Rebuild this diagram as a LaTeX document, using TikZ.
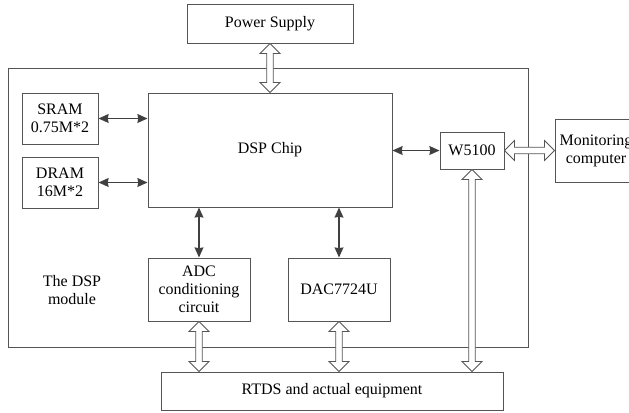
\documentclass[tikz,border=0pt]{standalone}
\usepackage{fontspec}
\setmainfont{Liberation Serif}
\usetikzlibrary{calc,arrows.meta}
\definecolor{boxline}{HTML}{555555}
\definecolor{arrowcol}{HTML}{404040}
\newcommand\hL{7.5pt}
\newcommand\hH{7.5pt}
\newcommand\hW{2.5pt}
\newcommand\hollowarrow[2]{%
  \coordinate (ha1) at ($(#1)!\hL!(#2)$);
  \coordinate (hb1) at ($(#2)!\hL!(#1)$);
  \draw[hollowstyle] (#1)
    -- ($(ha1)!\hH!90:(#2)$) -- ($(ha1)!\hW!90:(#2)$)
    -- ($(hb1)!\hW!-90:(#1)$) -- ($(hb1)!\hH!-90:(#1)$)
    -- (#2)
    -- ($(hb1)!\hH!90:(#1)$) -- ($(hb1)!\hW!90:(#1)$)
    -- ($(ha1)!\hW!-90:(#2)$) -- ($(ha1)!\hH!-90:(#2)$)
    -- cycle;}
\begin{document}
\begin{tikzpicture}[x=0.75pt,y=-0.75pt,
  every node/.style={font=\fontsize{12}{13.5}\selectfont},
  box/.style={draw=boxline,line width=0.7pt,rectangle,inner sep=0pt,align=center},
  filledarrow/.style={draw=arrowcol,line width=1.4pt,{Stealth[length=7.5pt,width=6.5pt,inset=0.5pt]}-{Stealth[length=7.5pt,width=6.5pt,inset=0.5pt]}},
  hollowstyle/.style={draw=boxline,line width=0.6pt,fill=white,line join=miter}]
\useasboundingbox (0,0) rectangle (629,412);
\clip (0,0) rectangle (629,412);
\fill[white] (0,0) rectangle (629,412);
% outer module
\node[box,minimum width=520*0.75pt,minimum height=279*0.75pt] (outer) at (268,207.5) {};
\node[align=center] (lbl) at (72,290) {The DSP\\module};
% boxes
\node[box,minimum width=166*0.75pt,minimum height=39*0.75pt] (ps) at (270,23.5) {Power Supply};
\node[box,minimum width=76*0.75pt,minimum height=51*0.75pt] (sram) at (60,118.5) {SRAM\\0.75M*2};
\node[box,minimum width=76*0.75pt,minimum height=51*0.75pt] (dram) at (60,182.5) {DRAM\\16M*2};
\node[box,minimum width=244*0.75pt,minimum height=114*0.75pt] (dsp) at (270,150) {DSP Chip};
\node[box,minimum width=64*0.75pt,minimum height=37*0.75pt] (w) at (472,150.5) {W5100};
\node[box,minimum width=82*0.75pt,minimum height=63*0.75pt] (mon) at (596,150.5) {Monitoring\\computer};
\node[box,minimum width=102*0.75pt,minimum height=63*0.75pt] (adc) at (199,289.5) {ADC\\conditioning\\circuit};
\node[box,minimum width=102*0.75pt,minimum height=63*0.75pt] (dac) at (339,289.5) {DAC7724U};
\node[box,minimum width=342*0.75pt,minimum height=38*0.75pt] (rtds) at (332,391) {RTDS and actual equipment};
% filled connectors
\draw[filledarrow] (sram.east) -- (sram.east -| dsp.west);
\draw[filledarrow] (dram.east) -- (dram.east -| dsp.west);
\draw[filledarrow] (w.west -| dsp.east) -- (w.west);
\draw[filledarrow] (adc.north |- dsp.south) -- (adc.north);
\draw[filledarrow] (dac.north |- dsp.south) -- (dac.north);
% hollow connectors
\coordinate (p1) at (dsp.north |- ps.south);
\coordinate (p2) at (dsp.north);
\hollowarrow{p1}{p2}
\coordinate (m1) at (w.east);
\coordinate (m2) at (mon.west |- w.east);
\hollowarrow{m1}{m2}
\coordinate (v1) at (w.south);
\coordinate (v2) at (w.south |- rtds.north);
\hollowarrow{v1}{v2}
\coordinate (a1) at (adc.south);
\coordinate (a2) at (adc.south |- rtds.north);
\hollowarrow{a1}{a2}
\coordinate (d1) at (dac.south);
\coordinate (d2) at (dac.south |- rtds.north);
\hollowarrow{d1}{d2}
\end{tikzpicture}
\end{document}
